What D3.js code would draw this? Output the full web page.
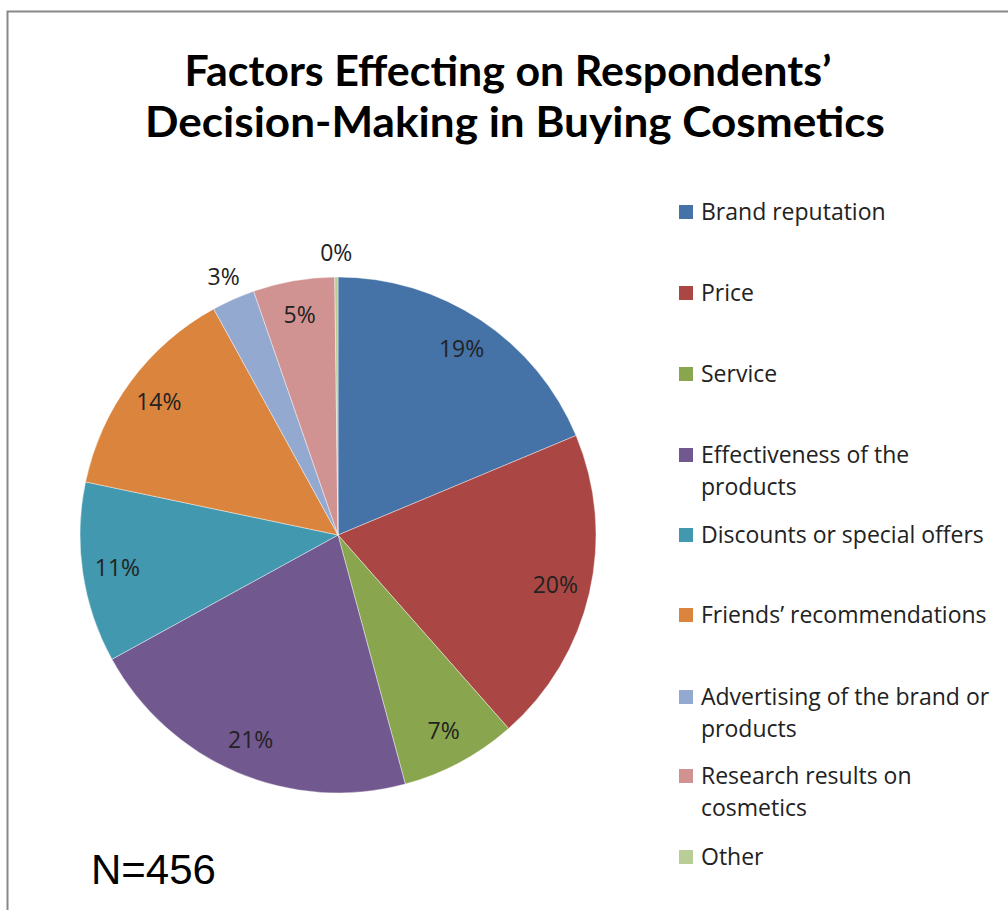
<!DOCTYPE html>
<html><head><meta charset="utf-8">
<script src="https://cdn.jsdelivr.net/npm/d3@7"></script>
<style>
html,body{margin:0;padding:0;background:#fff;}
svg{display:block;}
</style></head>
<body>
<script>
const categories = ["Brand reputation","Price","Service","Effectiveness of the products","Discounts or special offers","Friends\u2019 recommendations","Advertising of the brand or products","Research results on cosmetics","Other"];
const legendLines = [["Brand reputation"],["Price"],["Service"],["Effectiveness of the","products"],["Discounts or special offers"],["Friends\u2019 recommendations"],["Advertising of the brand or","products"],["Research results on","cosmetics"],["Other"]];
const values = [18.7,19.8,7.3,21.2,11.3,13.7,2.7,5.1,0.2];
const labels = ["19%","20%","7%","21%","11%","14%","3%","5%","0%"];
const colors = ["#4572A7","#AA4643","#89A54E","#71588F","#4198AF","#DB843D","#93A9CF","#D19392","#B9CD96"];
const titleLines = ["Factors Effecting on Respondents\u2019","Decision-Making in Buying Cosmetics"];
const note = "N=456";

const W=1008,H=910;
const svg=d3.select("body").append("svg").attr("width",W).attr("height",H);
svg.append("rect").attr("width",W).attr("height",H).attr("fill","#fff");
svg.append("path").attr("d",`M7.5,${H} V11.5 H${W}`).attr("fill","none").attr("stroke","#888").attr("stroke-width",2);

const titleW=[647,740], titleX=[508,515];
const title=svg.append("text").attr("text-anchor","middle")
  .attr("font-family","Lato, 'Open Sans', sans-serif").attr("font-weight","bold").attr("font-size",42)
  .attr("fill","#000");
title.selectAll("tspan").data(titleLines).join("tspan")
  .attr("x",(d,i)=>titleX[i]).attr("y",(d,i)=>85.5+i*51)
  .attr("textLength",(d,i)=>titleW[i]).attr("lengthAdjust","spacingAndGlyphs")
  .text(d=>d);

const cx=338, cy=535, r=258;
const pie=d3.pie().sort(null).value(d=>d)(values);
const arc=d3.arc().innerRadius(0).outerRadius(r);
const g=svg.append("g").attr("transform",`translate(${cx},${cy})`);
g.selectAll("path").data(pie).join("path").attr("d",arc)
  .attr("fill",(d,i)=>colors[i]).attr("stroke","#fff").attr("stroke-width",0.7).attr("stroke-opacity",0.6);

const inArc=d3.arc().innerRadius(223).outerRadius(223);
const outArc=d3.arc().innerRadius(282).outerRadius(282);
g.selectAll("text").data(pie).join("text")
  .attr("transform",d=>`translate(${(d.data<4?outArc:inArc).centroid(d)})`)
  .attr("text-anchor","middle").attr("dy","0.35em")
  .attr("font-family","'Open Sans', 'DejaVu Sans', sans-serif").attr("font-size",23).attr("fill","#222")
  .text((d,i)=>labels[i]);

const lg=svg.append("g");
const ys=[212,293,374,455,535,615,697,776,857];
legendLines.forEach((lines,i)=>{
  lg.append("rect").attr("x",679).attr("y",ys[i]-7).attr("width",14).attr("height",14).attr("fill",colors[i]);
  lines.forEach((t,j)=>{
    lg.append("text").attr("x",701).attr("y",ys[i]+j*32).attr("dy","0.35em")
      .attr("font-family","'Open Sans', 'DejaVu Sans', sans-serif").attr("font-size",23).attr("fill","#222").text(t);
  });
});

svg.append("text").attr("x",91).attr("y",884).attr("font-family","'Liberation Sans', Arial, sans-serif")
  .attr("font-size",42).attr("fill","#000").text(note);
</script>
</body></html>
